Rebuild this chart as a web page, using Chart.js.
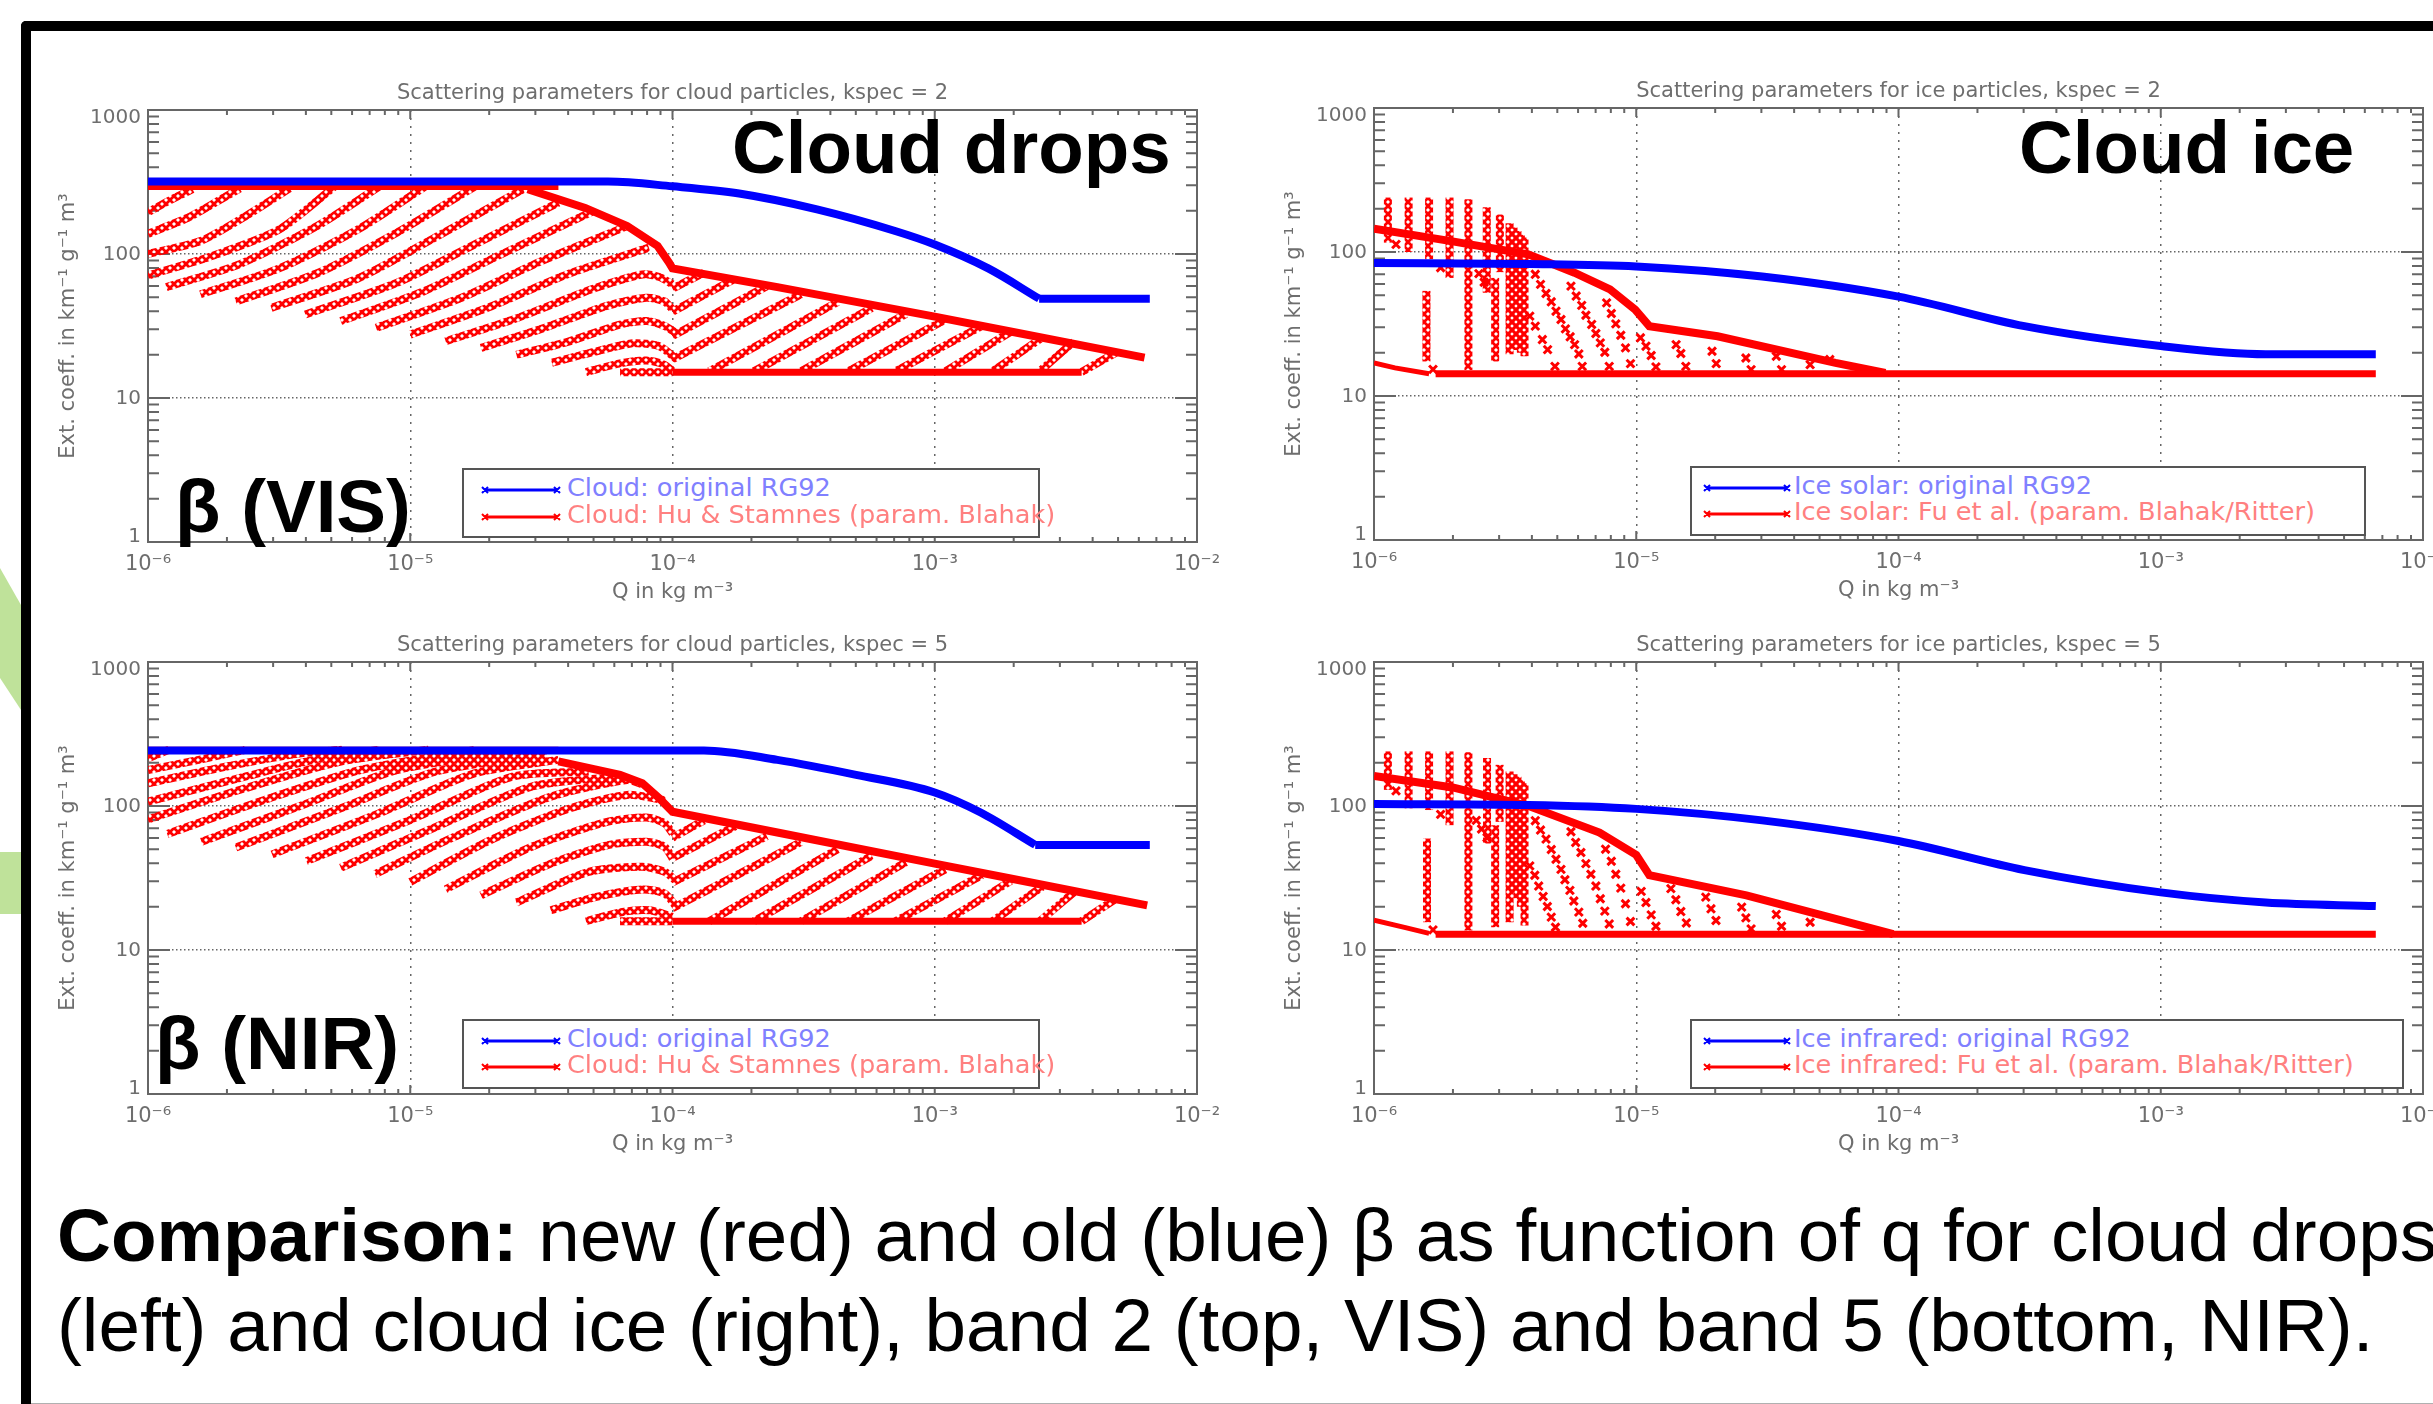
<!DOCTYPE html>
<html>
<head>
<meta charset="utf-8">
<script src="https://cdn.jsdelivr.net/npm/chart.js@4"></script>
<style>
  html, body { margin: 0; padding: 0; background: #fff; }
  body { width: 2433px; height: 1404px; overflow: hidden; position: relative; font-family: "Liberation Sans", Arial, sans-serif; }
  canvas { position: absolute; }
  .frameTop { position: absolute; left: 21px; top: 21px; right: 0; height: 10px; background: #000; border-top-left-radius: 5px; }
  .frameLeft { position: absolute; left: 21px; top: 21px; bottom: 0; width: 10px; background: #000; border-top-left-radius: 5px; }
  .frameBottom { position: absolute; left: 31px; right: 0; top: 1403px; height: 1px; background: #b0b0b0; }
  .big { position: absolute; font-size: 74.5px; line-height: 74px; font-weight: bold; color: #000; white-space: nowrap; z-index: 5; }
  .caption { position: absolute; font-size: 74.7px; line-height: 74px; color: #000; white-space: nowrap; z-index: 5; }
  .legendBox { position: absolute; background: #fff; border: 2px solid #555; box-sizing: border-box; z-index: 3; }
  .legendText { position: absolute; font-family: "DejaVu Sans", sans-serif; font-size: 25.6px; line-height: 24px; white-space: nowrap; z-index: 4; }
  .legendLine { position: absolute; z-index: 4; }
</style>
</head>
<body>
<svg style="position:absolute;left:0;top:0" width="21" height="1404">
  <polygon points="0,568 21,605 21,710 0,678" fill="#bfe29a"></polygon>
  <rect x="0" y="852" width="21" height="62" fill="#bfe29a"></rect>
</svg>
<div class="frameTop"></div>
<div class="frameLeft"></div>
<div class="frameBottom"></div>

<div id="panels"></div>

<div class="big" style="left:732px;top:111px">Cloud drops</div>
<div class="big" style="left:2019px;top:111px">Cloud ice</div>
<div class="big" style="left:175px;top:470px">β (VIS)</div>
<div class="big" style="left:155px;top:1007px">β (NIR)</div>
<div class="caption" style="left:57px;top:1198px"><b>Comparison:</b> new (red) and old (blue) β as function of q for cloud drops</div>
<div class="caption" style="left:57px;top:1288px">(left) and cloud ice (right), band 2 (top, VIS) and band 5 (bottom, NIR).</div>

<script>
// all curves are [log10 Q, log10 beta]
const xTickValues = [1e-6, 1e-5, 1e-4, 1e-3, 1e-2];
const xTickLabels = ['10⁻⁶', '10⁻⁵', '10⁻⁴', '10⁻³', '10⁻²'];
const yTickValues = [1, 10, 100, 1000];
const yTickLabels = ['1', '10', '100', '1000'];

// ---- cloud drops, band 2
const dropsVisBlue = [[-6,2.503],[-4.246,2.503],[-4,2.47],[-3.746,2.42],[-3.449,2.31],[-3.151,2.16],[-3,2.066],[-2.796,1.9],[-2.602,1.69]];
const dropsVisBlueTail = [[-2.602,1.69],[-2.18,1.69]];
const dropsVisTop = [[-6,2.466],[-4.435,2.466]];
const dropsVisEnvelope = [[-4.552,2.45],[-4.333,2.32],[-4.173,2.195],[-4.057,2.056],[-4.013,1.94],[-4,1.9],[-3.6,1.77],[-3,1.565],[-2.706,1.46],[-2.2,1.28]];
const dropsVisFlat = [[-4,1.179],[-2.44,1.179]];
const dropsVisStrands = [
  [[-6,2.29],[-5.92,2.37],[-5.83,2.45]],
  [[-6,2.14],[-5.85,2.25],[-5.75,2.35],[-5.65,2.455]],
  [[-6,2.0],[-5.8,2.09],[-5.63,2.26],[-5.46,2.455]],
  [[-6,1.85],[-5.75,1.99],[-5.5,2.17],[-5.29,2.466]],
  [[-5.93,1.77],[-5.65,1.93],[-5.35,2.2],[-5.12,2.466]],
  [[-5.8,1.72],[-5.5,1.9],[-5.2,2.17],[-4.945,2.466]],
  [[-5.665,1.67],[-5.35,1.87],[-5.05,2.15],[-4.755,2.466]],
  [[-5.53,1.626],[-5.2,1.83],[-4.9,2.12],[-4.57,2.45]],
  [[-5.4,1.58],[-5.05,1.8],[-4.75,2.07],[-4.435,2.357]],
  [[-5.265,1.534],[-4.95,1.74],[-4.65,2.0],[-4.3,2.3]],
  [[-5.13,1.487],[-4.8,1.7],[-4.5,1.95],[-4.17,2.195]],
  [[-5,1.44],[-4.7,1.63],[-4.4,1.86],[-4.09,2.044]],
  [[-4.865,1.394],[-4.6,1.55],[-4.3,1.76],[-4.115,1.858],[-4.05,1.84],[-4,1.79]],
  [[-4.73,1.348],[-4.5,1.48],[-4.25,1.64],[-4.1,1.696],[-4.03,1.67],[-4,1.615]],
  [[-4.595,1.3],[-4.4,1.39],[-4.2,1.51],[-4.1,1.534],[-4.03,1.5],[-3.985,1.45]],
  [[-4.46,1.244],[-4.3,1.32],[-4.15,1.38],[-4.05,1.36],[-3.985,1.27]],
  [[-4.33,1.18],[-4.2,1.24],[-4.1,1.26],[-4.03,1.23],[-4,1.186]],
  [[-4.2,1.179],[-4,1.179]],
  [[-4,1.76],[-3.88,1.87]],
  [[-4,1.6],[-3.77,1.82]],
  [[-4,1.43],[-3.64,1.777]],
  [[-4,1.27],[-3.51,1.72]],
  [[-3.86,1.185],[-3.37,1.667]],
  [[-3.69,1.185],[-3.24,1.625]],
  [[-3.51,1.185],[-3.11,1.584]],
  [[-3.33,1.185],[-2.96,1.543]],
  [[-3.15,1.185],[-2.82,1.5]],
  [[-2.96,1.185],[-2.71,1.46]],
  [[-2.78,1.185],[-2.59,1.42]],
  [[-2.6,1.185],[-2.47,1.39]],
  [[-2.44,1.18],[-2.305,1.32]]
];

// ---- cloud drops, band 5
const dropsNirBlue = [[-6,2.386],[-3.88,2.386],[-3.6,2.32],[-3.3,2.216],[-3,2.094],[-2.825,1.955],[-2.617,1.73]];
const dropsNirBlueTail = [[-2.617,1.73],[-2.18,1.73]];
const dropsNirTop = [[-6,2.39],[-4.435,2.39]];
const dropsNirEnvelope = [[-4.435,2.31],[-4.2,2.216],[-4.115,2.158],[-4.05,2.053],[-4,1.96],[-3.6,1.816],[-3,1.6],[-2.706,1.495],[-2.19,1.31]];
const dropsNirFlat = [[-4,1.2],[-2.44,1.2]];
const dropsNirStrands = [
  [[-6,2.332],[-5.92,2.39]],
  [[-6,2.25],[-5.774,2.332],[-5.63,2.39]],
  [[-6,2.158],[-5.7,2.274],[-5.41,2.367],[-5.26,2.39]],
  [[-6,2.03],[-5.63,2.204],[-5.34,2.332],[-5.12,2.39]],
  [[-6,1.907],[-5.63,2.123],[-5.265,2.309],[-4.93,2.39]],
  [[-5.927,1.805],[-5.556,2.042],[-5.19,2.25],[-4.755,2.39]],
  [[-5.796,1.752],[-5.41,2.007],[-5.05,2.25],[-4.61,2.378]],
  [[-5.665,1.712],[-5.265,1.984],[-4.9,2.24],[-4.48,2.36]],
  [[-5.527,1.664],[-5.12,1.949],[-4.755,2.227],[-4.435,2.32]],
  [[-5.396,1.617],[-5,1.903],[-4.61,2.204],[-4.32,2.24]],
  [[-5.265,1.571],[-4.9,1.856],[-4.537,2.135],[-4.2,2.204]],
  [[-5.134,1.527],[-4.83,1.787],[-4.464,2.065],[-4.173,2.18],[-4.108,2.146]],
  [[-5,1.473],[-4.68,1.775],[-4.39,1.984],[-4.173,2.077],[-4.028,2.04]],
  [[-4.865,1.422],[-4.537,1.717],[-4.246,1.891],[-4.1,1.92],[-4.03,1.88],[-4,1.81]],
  [[-4.73,1.38],[-4.464,1.6],[-4.246,1.729],[-4.1,1.752],[-4.03,1.717],[-4,1.636]],
  [[-4.595,1.33],[-4.32,1.543],[-4.115,1.578],[-4.03,1.543],[-3.99,1.485]],
  [[-4.464,1.276],[-4.29,1.369],[-4.115,1.42],[-4.03,1.392],[-3.985,1.3]],
  [[-4.33,1.2],[-4.19,1.264],[-4.086,1.276],[-4,1.23]],
  [[-4.2,1.2],[-4,1.2]],
  [[-4,1.78],[-3.88,1.9]],
  [[-4,1.64],[-3.76,1.86]],
  [[-4,1.47],[-3.64,1.79]],
  [[-4,1.29],[-3.51,1.75]],
  [[-3.86,1.2],[-3.37,1.7]],
  [[-3.69,1.2],[-3.24,1.655]],
  [[-3.51,1.2],[-3.11,1.61]],
  [[-3.33,1.2],[-2.96,1.56]],
  [[-3.15,1.2],[-2.82,1.52]],
  [[-2.96,1.2],[-2.71,1.48]],
  [[-2.78,1.2],[-2.59,1.44]],
  [[-2.6,1.2],[-2.47,1.4]],
  [[-2.44,1.2],[-2.305,1.36]]
];

// ---- cloud ice, band 2
const iceVisBlue = [[-6,1.923],[-5.41,1.917],[-5,1.9],[-4.52,1.83],[-4,1.69],[-3.52,1.485],[-3,1.347],[-2.6,1.29],[-2.18,1.29]];
const iceVisFlat = [[-5.765,1.155],[-2.18,1.155]];
const iceVisLow = [[-6,1.23],[-5.92,1.195],[-5.79,1.155]];
const iceVisEnvelope = [[-6,2.162],[-5.712,2.077],[-5.412,1.984],[-5.236,1.856],[-5.1,1.74],[-5.004,1.6],[-4.95,1.485],[-4.69,1.415],[-4.24,1.23],[-4.05,1.16]];
const iceVisStrands = [
  [[-5.947,2.378],[-5.947,2.065]],
  [[-5.868,2.378],[-5.868,2.0]],
  [[-5.79,2.378],[-5.79,1.95]],
  [[-5.712,2.378],[-5.712,1.82]],
  [[-5.64,2.367],[-5.64,1.18]],
  [[-5.57,2.31],[-5.57,1.717]],
  [[-5.538,1.82],[-5.538,1.24]],
  [[-5.52,2.26],[-5.52,1.86]],
  [[-5.483,2.2],[-5.483,1.29]],
  [[-5.468,2.17],[-5.468,1.32]],
  [[-5.453,2.146],[-5.453,1.35]],
  [[-5.44,2.12],[-5.44,1.3]],
  [[-5.426,2.1],[-5.426,1.276]],
  [[-5.8,1.73],[-5.8,1.24]]
];
const iceVisCrosses = [
  [-5.406,1.555],[-5.385,1.485],[-5.358,1.392],[-5.338,1.322],[-5.31,1.206],
  [-5.385,1.845],[-5.365,1.775],[-5.344,1.712],[-5.324,1.654],[-5.306,1.589],[-5.287,1.531],[-5.27,1.466],[-5.252,1.411],[-5.235,1.357],[-5.219,1.292],[-5.206,1.206],
  [-5.249,1.763],[-5.229,1.694],[-5.208,1.629],[-5.192,1.561],[-5.17,1.497],[-5.154,1.434],[-5.137,1.369],[-5.12,1.304],[-5.103,1.206],
  [-5.113,1.647],[-5.095,1.573],[-5.078,1.501],[-5.059,1.422],[-5.041,1.334],[-5.022,1.225],
  [-4.984,1.404],[-4.963,1.346],[-4.943,1.281],[-4.925,1.202],
  [-4.848,1.357],[-4.83,1.295],[-4.811,1.206],
  [-4.711,1.311],[-4.695,1.225],
  [-4.582,1.264],[-4.562,1.183],[-4.466,1.276],[-4.446,1.183],[-4.337,1.218],[-4.262,1.253],
  [-5.916,2.053],[-5.746,1.891],[-5.6,1.85],[-5.58,1.79],[-5.775,1.185]
];

// ---- cloud ice, band 5
const iceNirBlue = [[-6,2.014],[-5.41,2.007],[-5,1.98],[-4.52,1.9],[-4,1.757],[-3.52,1.555],[-3,1.4],[-2.6,1.33],[-2.18,1.305]];
const iceNirFlat = [[-5.765,1.11],[-2.18,1.11]];
const iceNirLow = [[-6,1.207],[-5.88,1.155],[-5.79,1.115]];
const iceNirEnvelope = [[-6,2.209],[-5.7,2.129],[-5.41,2.0],[-5.14,1.816],[-5,1.66],[-4.95,1.52],[-4.58,1.38],[-4.29,1.24],[-4.02,1.11]];
const iceNirStrands = [
  [[-5.947,2.379],[-5.947,2.112]],
  [[-5.868,2.379],[-5.868,1.984]],
  [[-5.79,2.379],[-5.79,1.972]],
  [[-5.712,2.379],[-5.712,1.867]],
  [[-5.64,2.374],[-5.64,1.135]],
  [[-5.569,2.333],[-5.569,1.74]],
  [[-5.538,1.867],[-5.538,1.158]],
  [[-5.521,2.286],[-5.521,1.89]],
  [[-5.483,2.24],[-5.483,1.193]],
  [[-5.468,2.22],[-5.468,1.4]],
  [[-5.453,2.205],[-5.453,1.36]],
  [[-5.44,2.18],[-5.44,1.3]],
  [[-5.426,2.158],[-5.426,1.17]],
  [[-5.798,1.774],[-5.798,1.193]]
];
const iceNirCrosses = [
  [-5.406,1.584],[-5.387,1.519],[-5.372,1.444],[-5.355,1.372],[-5.339,1.302],[-5.324,1.228],[-5.308,1.158],
  [-5.385,1.898],[-5.365,1.833],[-5.344,1.77],[-5.324,1.698],[-5.306,1.63],[-5.287,1.56],[-5.272,1.488],[-5.253,1.414],[-5.238,1.34],[-5.219,1.263],[-5.204,1.186],
  [-5.249,1.821],[-5.231,1.747],[-5.211,1.677],[-5.192,1.6],[-5.173,1.526],[-5.154,1.444],[-5.137,1.356],[-5.12,1.27],[-5.103,1.181],
  [-5.117,1.7],[-5.095,1.616],[-5.078,1.526],[-5.059,1.43],[-5.041,1.321],[-5.022,1.198],
  [-4.981,1.407],[-4.963,1.33],[-4.943,1.244],[-4.925,1.165],
  [-4.868,1.426],[-4.849,1.349],[-4.83,1.267],[-4.809,1.188],
  [-4.735,1.367],[-4.715,1.286],[-4.696,1.205],
  [-4.598,1.298],[-4.582,1.223],[-4.562,1.147],
  [-4.466,1.247],[-4.446,1.165],[-4.337,1.193],
  [-5.916,2.105],[-5.746,1.942],[-5.61,1.9],[-5.59,1.84],[-5.569,1.78],[-5.775,1.14]
];

const panels = [
  { left: 58, plotTop: 110, title: 'Scattering parameters for cloud particles, kspec = 2',
    blue: dropsVisBlue, blueTail: dropsVisBlueTail, top: dropsVisTop, envelope: dropsVisEnvelope, flat: dropsVisFlat, low: null, strands: dropsVisStrands, crosses: null,
    legendBox: [462, 468, 578, 70], legendLineX: [485, 557], legendTextX: 567, legendY: [490, 517],
    legendBlue: 'Cloud: original RG92', legendRed: 'Cloud: Hu & Stamnes (param. Blahak)' },
  { left: 1284, plotTop: 108, title: 'Scattering parameters for ice particles, kspec = 2',
    blue: iceVisBlue, blueTail: null, top: null, envelope: iceVisEnvelope, flat: iceVisFlat, low: iceVisLow, strands: iceVisStrands, crosses: iceVisCrosses,
    legendBox: [1690, 466, 676, 70], legendLineX: [1707, 1787], legendTextX: 1794, legendY: [488, 514],
    legendBlue: 'Ice solar: original RG92', legendRed: 'Ice solar: Fu et al. (param. Blahak/Ritter)' },
  { left: 58, plotTop: 662, title: 'Scattering parameters for cloud particles, kspec = 5',
    blue: dropsNirBlue, blueTail: dropsNirBlueTail, top: dropsNirTop, envelope: dropsNirEnvelope, flat: dropsNirFlat, low: null, strands: dropsNirStrands, crosses: null,
    legendBox: [462, 1019, 578, 70], legendLineX: [485, 557], legendTextX: 567, legendY: [1041, 1067],
    legendBlue: 'Cloud: original RG92', legendRed: 'Cloud: Hu & Stamnes (param. Blahak)' },
  { left: 1284, plotTop: 662, title: 'Scattering parameters for ice particles, kspec = 5',
    blue: iceNirBlue, blueTail: null, top: null, envelope: iceNirEnvelope, flat: iceNirFlat, low: iceNirLow, strands: iceNirStrands, crosses: iceNirCrosses,
    legendBox: [1690, 1019, 714, 70], legendLineX: [1707, 1787], legendTextX: 1794, legendY: [1041, 1067],
    legendBlue: 'Ice infrared: original RG92', legendRed: 'Ice infrared: Fu et al. (param. Blahak/Ritter)' }
];

const MINOR_STEPS = [2, 3, 4, 5, 6, 7, 8, 9];
const AXIS_GRAY = '#666';
const TEXT_GRAY = '#6e6e6e';
const CHART_FONT = { family: '"DejaVu Sans", sans-serif', size: 21, weight: 'normal', lineHeight: 1 };

function toPoints(curve) {
  return curve.map(p => ({ x: Math.pow(10, p[0]), y: Math.pow(10, p[1]) }));
}

function makeCrossTile() {
  const tile = document.createElement('canvas');
  tile.width = 8;
  tile.height = 8;
  const t = tile.getContext('2d');
  t.strokeStyle = '#ff0000';
  t.lineWidth = 2.8;
  t.beginPath();
  t.moveTo(0, 0); t.lineTo(8, 8);
  t.moveTo(8, 0); t.lineTo(0, 8);
  t.stroke();
  return tile;
}

// IDL style frame with inward ticks on all four sides, y labels kept inside the axis span
const idlFrame = {
  id: 'idlFrame',
  beforeDatasetsDraw(chart) {
    const ctx = chart.ctx;
    const a = chart.chartArea;
    const xs = chart.scales.x;
    const ys = chart.scales.y;
    ctx.save();
    ctx.strokeStyle = AXIS_GRAY;
    ctx.lineWidth = 2;
    ctx.strokeRect(a.left, a.top, a.right - a.left, a.bottom - a.top);
    ctx.beginPath();
    xTickValues.slice(0, 4).forEach(decade => {
      MINOR_STEPS.concat([10]).forEach(m => {
        const len = m === 10 ? 9 : 5;
        const px = xs.getPixelForValue(decade * m);
        ctx.moveTo(px, a.bottom); ctx.lineTo(px, a.bottom - len);
        ctx.moveTo(px, a.top); ctx.lineTo(px, a.top + len);
      });
    });
    yTickValues.slice(0, 3).forEach(decade => {
      MINOR_STEPS.concat([10]).forEach(m => {
        const len = m === 10 ? 22 : 11;
        const py = ys.getPixelForValue(decade * m);
        ctx.moveTo(a.left, py); ctx.lineTo(a.left + len, py);
        ctx.moveTo(a.right, py); ctx.lineTo(a.right - len, py);
      });
    });
    ctx.stroke();
    ctx.fillStyle = TEXT_GRAY;
    ctx.font = `20px ${CHART_FONT.family}`;
    ctx.textAlign = 'right';
    ctx.textBaseline = 'middle';
    yTickValues.forEach((v, i) => {
      const nudge = i === 0 ? -5 : i === yTickValues.length - 1 ? 8 : 1;
      ctx.fillText(yTickLabels[i], a.left - 7, ys.getPixelForValue(v) + nudge);
    });
    ctx.restore();
  }
};

function addLegend(panel, body) {
  const b = panel.legendBox;
  const box = document.createElement('div');
  box.className = 'legendBox';
  box.style.cssText = `left:${b[0]}px;top:${b[1]}px;width:${b[2]}px;height:${b[3]}px`;
  body.appendChild(box);
  [[panel.legendBlue, '#0000ff', '#8080ff'], [panel.legendRed, '#ff0000', '#ff8080']].forEach((row, i) => {
    const y = panel.legendY[i];
    const x0 = panel.legendLineX[0];
    const x1 = panel.legendLineX[1];
    const line = document.createElementNS('http://www.w3.org/2000/svg', 'svg');
    line.setAttribute('class', 'legendLine');
    line.setAttribute('width', x1 - x0 + 12);
    line.setAttribute('height', 12);
    line.style.left = (x0 - 6) + 'px';
    line.style.top = (y - 6) + 'px';
    const w = x1 - x0 + 6;
    line.innerHTML = `<path d="M6 6H${w}" stroke="${row[1]}" stroke-width="3"/>` +
      `<path d="M3 3L9 9M9 3L3 9M${w - 3} 3L${w + 3} 9M${w + 3} 3L${w - 3} 9" stroke="${row[1]}" stroke-width="2"/>`;
    body.appendChild(line);
    const text = document.createElement('div');
    text.className = 'legendText';
    text.textContent = row[0];
    text.style.left = panel.legendTextX + 'px';
    text.style.top = (y - 15) + 'px';
    text.style.color = row[2];
    body.appendChild(text);
  });
}

function drawPanel(panel, holder) {
  const canvas = document.createElement('canvas');
  canvas.width = 1229;
  canvas.height = 523;
  canvas.style.left = panel.left + 'px';
  canvas.style.top = (panel.plotTop - 30) + 'px';
  holder.appendChild(canvas);
  const crossPattern = canvas.getContext('2d').createPattern(makeCrossTile(), 'repeat');

  const solid = (curve, color, width) => ({
    data: toPoints(curve), showLine: true, borderColor: color, borderWidth: width, pointRadius: 0
  });
  // Chart.js paints the first dataset last, so blue goes first
  const datasets = [Object.assign(solid(panel.blue, '#0000ff', 8), { cubicInterpolationMode: 'monotone' })];
  if (panel.blueTail) datasets.push(solid(panel.blueTail, '#0000ff', 8));
  if (panel.flat) datasets.push(solid(panel.flat, '#ff0000', 7));
  if (panel.low) datasets.push(solid(panel.low, '#ff0000', 5));
  datasets.push(solid(panel.envelope, '#ff0000', 8));
  if (panel.top) datasets.push(solid(panel.top, '#ff0000', 6));
  panel.strands.forEach(s => {
    datasets.push({
      data: toPoints(s), showLine: true, borderColor: crossPattern, borderWidth: 8,
      pointRadius: 0, tension: 0.25
    });
  });
  if (panel.crosses) {
    datasets.push({
      data: toPoints(panel.crosses), showLine: false, pointStyle: 'crossRot', pointRadius: 5.5,
      pointBorderColor: '#ff0000', pointBorderWidth: 3
    });
  }

  new Chart(canvas, {
    type: 'scatter',
    data: { datasets: datasets },
    plugins: [idlFrame],
    options: {
      responsive: false,
      animation: false,
      layout: { padding: { left: 0, right: 90, top: 0, bottom: 0 } },
      plugins: {
        legend: { display: false },
        tooltip: { enabled: false },
        title: { display: true, fullSize: false, text: panel.title, color: TEXT_GRAY, font: CHART_FONT, padding: { top: 3.5, bottom: 5.5 } }
      },
      scales: {
        x: {
          type: 'logarithmic', min: 1e-6, max: 1e-2,
          afterBuildTicks: s => { s.ticks = xTickValues.map(v => ({ value: v })); },
          afterFit: s => { s.height = 61; },
          grid: { color: AXIS_GRAY, lineWidth: 1.5, drawTicks: false },
          border: { display: false, dash: [2, 6] },
          ticks: { autoSkip: false, maxRotation: 0, padding: 12, color: TEXT_GRAY, font: CHART_FONT,
            callback: (v, i) => xTickLabels[i] },
          title: { display: true, text: 'Q in kg m⁻³', color: TEXT_GRAY, font: CHART_FONT, padding: 0 }
        },
        y: {
          type: 'logarithmic', min: 1, max: 1000,
          afterBuildTicks: s => { s.ticks = yTickValues.map(v => ({ value: v })); },
          afterFit: s => { s.width = 90; },
          grid: { color: AXIS_GRAY, lineWidth: 1.5, drawTicks: false },
          border: { display: false, dash: [1.5, 2.5] },
          ticks: { display: false },
          title: { display: true, text: 'Ext. coeff. in km⁻¹ g⁻¹ m³', color: TEXT_GRAY, font: CHART_FONT, padding: 0 }
        }
      }
    }
  });
  addLegend(panel, document.body);
}

const holder = document.getElementById('panels');
panels.forEach(p => drawPanel(p, holder));
</script>
</body>
</html>
